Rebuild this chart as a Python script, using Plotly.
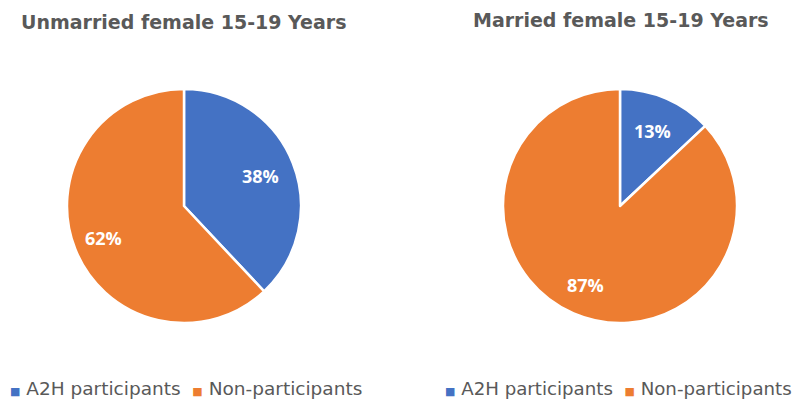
import math
import plotly.graph_objects as go

labels = ['A2H participants', 'Non-participants']
unmarried_values = [38, 62]
married_values = [13, 87]
titles = ['Unmarried female 15-19 Years', 'Married female 15-19 Years']

colors = ['#4472C4', '#ED7D31']
W, H = 803, 402
OFF = 8  # page body margin shifts the figure by 8px
title_font = 'DejaVu Sans, sans-serif'


def px(x):
    return (x - OFF) / W


def py(y):
    return 1 - (y - OFF) / H


# pie domains (paper fractions)
domains = [
    dict(x=[px(67), px(301)], y=[py(323), py(89)]),
    dict(x=[px(503), px(737)], y=[py(323), py(89)]),
]

fig = go.Figure()
for vals, dom in zip([unmarried_values, married_values], domains):
    fig.add_trace(go.Pie(
        labels=labels, values=vals,
        sort=False, direction='clockwise', rotation=0,
        marker=dict(colors=colors, line=dict(color='white', width=2.5)),
        textinfo='none', hoverinfo='label+percent',
        domain=dom, showlegend=False,
    ))

    # percent labels, placed at slice mid-angle
    cx = (dom['x'][0] + dom['x'][1]) / 2
    cy = (dom['y'][0] + dom['y'][1]) / 2
    R = (dom['x'][1] - dom['x'][0]) * W / 2
    total = sum(vals)
    start = 0
    for i, v in enumerate(vals):
        mid = (start + v / 2) / total * 2 * math.pi
        start += v
        f = 0.7 if v < 50 else 0.74
        fig.add_annotation(
            x=cx + f * R * math.sin(mid) / W, y=cy + f * R * math.cos(mid) / H,
            xref='paper', yref='paper', showarrow=False,
            xanchor='center', yanchor='middle',
            text=f'<b>{v}%</b>',
            font=dict(size=18, color='white', family='Open Sans, sans-serif'),
        )

# titles above each pie
for x, y, t in [(184, 22, titles[0]), (621, 20, titles[1])]:
    fig.add_annotation(x=px(x), y=py(y), xref='paper', yref='paper', text=f'<b>{t}</b>',
                       showarrow=False, xanchor='center', yanchor='middle',
                       font=dict(size=19, color='#595959', family=title_font))

# one legend under each pie
def legend_text():
    parts = []
    for lbl, c in zip(labels, colors):
        parts.append(f"<span style='color:{c};font-size:11px'>■</span> {lbl}")
    return '  '.join(parts)

for x, size in [(8, 18.5), (443, 18.2)]:
    fig.add_annotation(x=px(x), y=py(388), xref='paper', yref='paper',
                       text=legend_text(), showarrow=False,
                       xanchor='left', yanchor='middle',
                       font=dict(size=size, color='#595959', family=title_font))

fig.update_layout(
    width=W, height=H,
    margin=dict(l=0, r=0, t=0, b=0),
    paper_bgcolor='white',
    showlegend=False,
)
fig.write_html('out.html')
